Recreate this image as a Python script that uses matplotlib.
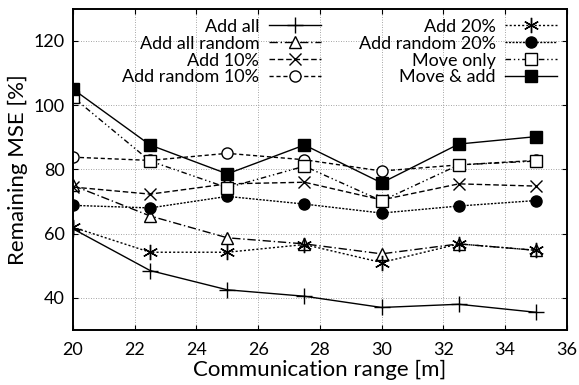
import numpy as np
import matplotlib
matplotlib.use("Agg")
import matplotlib.pyplot as plt

plt.rcParams['font.family'] = ['Lato', 'DejaVu Sans']

# communication range [m]
x = [20, 22.5, 25, 27.5, 30, 32.5, 35]

# remaining MSE [%] per strategy
add_all = [61.5, 48.5, 42.5, 40.5, 37, 38, 35.5]
add_all_random = [75, 65.5, 58.7, 56.8, 53.7, 56.8, 54.8]
add_10 = [74.5, 72.3, 75.5, 76, 70.5, 75.5, 74.8]
add_random_10 = [83.8, 82.8, 85, 83, 79.5, 81.4, 82.8]
add_20 = [62, 54.2, 54.2, 56.6, 51, 56.8, 54.8]
add_random_20 = [68.8, 68, 71.6, 69.2, 66.4, 68.6, 70.3]
move_only = [102.5, 82.6, 74.3, 81, 70.2, 81.4, 82.6]
move_add = [105, 87.6, 78.6, 87.6, 75.8, 87.9, 90.2]

fig = plt.figure(figsize=(5.79, 3.85), dpi=100)
ax = fig.add_axes([0.126, 0.143, 0.853, 0.834])

k = dict(color='black', lw=1.0, mew=1.0)
ax.plot(x, add_all, ls='-', marker='+', markersize=11, label='Add all', **k)
ax.plot(x, add_all_random, ls=(0, (6, 2, 1, 2)), marker='^', mfc='white', markersize=8, label='Add all random', **k)
ax.plot(x, add_10, ls=(0, (4, 2)), marker='x', markersize=8, label='Add 10%', **k)
ax.plot(x, add_random_10, ls=(0, (3, 2)), marker='o', mfc='white', markersize=8, label='Add random 10%', **k)
ax.plot(x, add_20, ls=(0, (1.5, 1.5)), marker=(6, 2, 0), markersize=11, label='Add 20%', **k)
ax.plot(x, add_random_20, ls=(0, (1.5, 1)), marker='o', mfc='black', markersize=8, label='Add random 20%', **k)
ax.plot(x, move_only, ls=(0, (4, 2, 1, 2, 1, 2)), marker='s', mfc='white', markersize=8, label='Move only', **k)
ax.plot(x, move_add, ls='-', marker='s', mfc='black', markersize=9, label='Move & add', **k)

ax.set_xlim(20, 36)
ax.set_ylim(30, 130)
ax.set_xticks(np.arange(20, 37, 2))
ax.set_yticks([40, 60, 80, 100, 120])
ax.grid(True, ls=(0, (1, 2)), color='#888888', lw=0.6)
ax.tick_params(direction='in', top=True, right=True, labelsize=13, length=3.5)
ax.tick_params(axis='x', pad=9)
ax.tick_params(axis='y', pad=6)
for s in ax.spines.values():
    s.set_linewidth(1.4)

ax.set_xlabel('Communication range [m]', fontsize=16, labelpad=1)
ax.set_ylabel('Remaining MSE [%]', fontsize=16, labelpad=4)

leg = ax.legend(ncol=2, loc='upper right', markerfirst=False, frameon=False,
                fontsize=13, handlelength=2.85, labelspacing=0.05,
                columnspacing=2.1, borderaxespad=0.15, handletextpad=0.55)
for t in leg.get_texts():
    t.set_ha('right')

fig.savefig('out.png', dpi=100)
